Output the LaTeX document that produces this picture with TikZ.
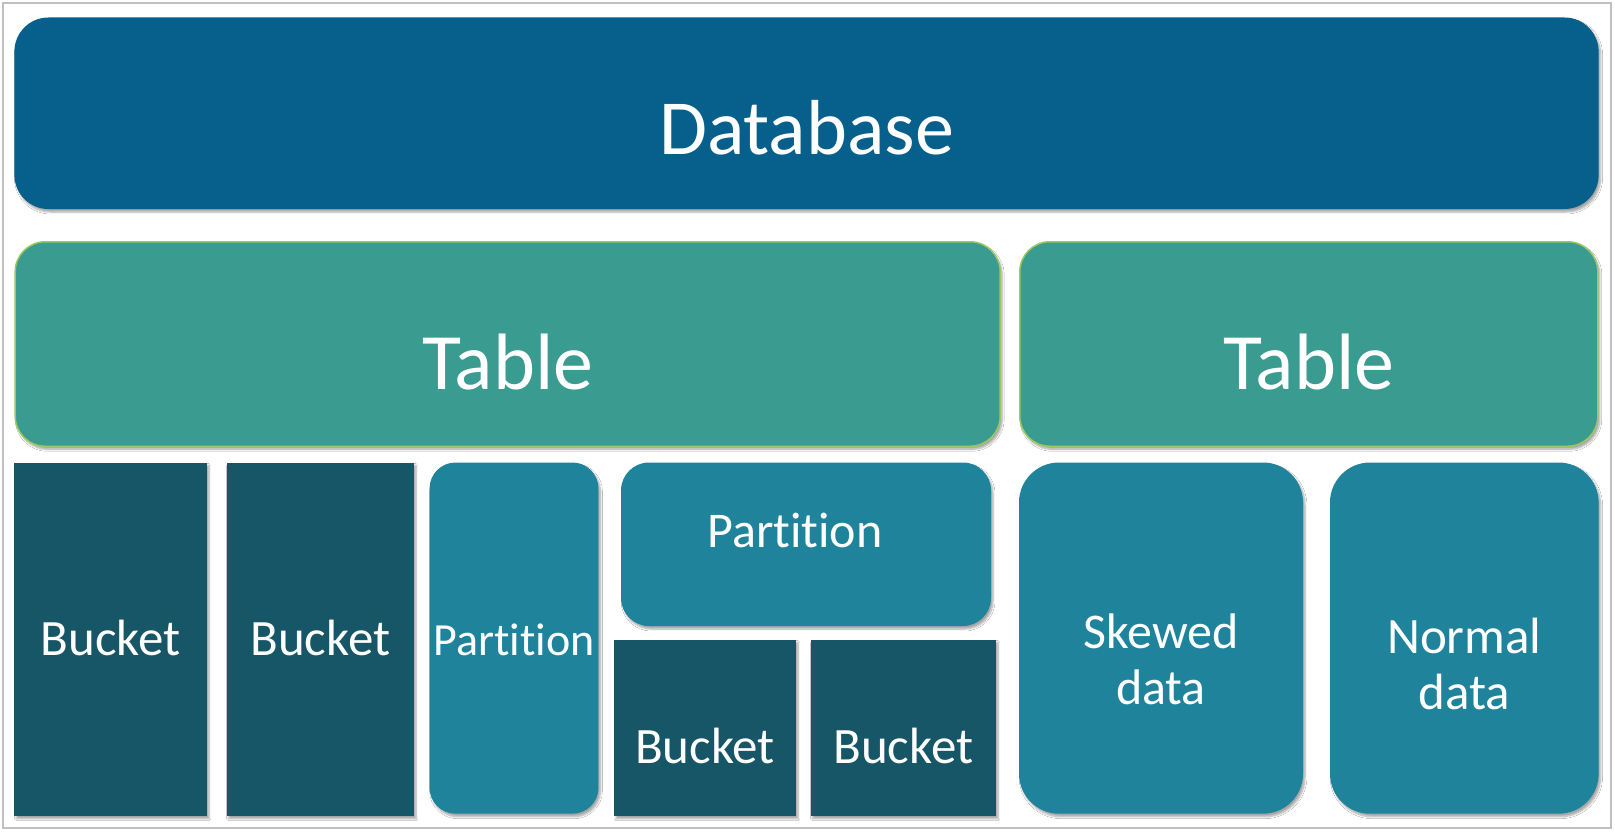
\documentclass[tikz,border=0pt]{standalone}
\usepackage{fontspec}
\setmainfont{Carlito}[Ligatures=NoCommon]
\usetikzlibrary{shadows.blur}
\definecolor{dbblue}{HTML}{075F8C}
\definecolor{tabgreen}{HTML}{3A9B91}
\definecolor{tabborder}{HTML}{9CC862}
\definecolor{partblue}{HTML}{1F839C}
\definecolor{bucketdark}{HTML}{165666}
\definecolor{framegray}{HTML}{C0C0C0}
\tikzset{
  shadowed/.style={blur shadow={shadow xshift=2pt, shadow yshift=-3pt, shadow blur steps=6, shadow opacity=35}},
  boxbase/.style={inner sep=0pt, outer sep=0pt, rectangle, shadowed},
  dbbox/.style={boxbase, fill=dbblue, rounded corners=34pt},
  tablebox/.style={boxbase, fill=tabgreen, draw=tabborder, line width=1.5pt, rounded corners=30pt},
  partbox/.style={boxbase, fill=partblue, rounded corners=26pt},
  databox/.style={boxbase, fill=partblue, rounded corners=40pt},
  bucketbox/.style={boxbase, fill=bucketdark},
  lbl/.style={text=white, inner sep=0pt, anchor=base, align=center},
}
\begin{document}
\begin{tikzpicture}[x=1pt,y=-1pt]
\useasboundingbox (0,0) rectangle (1615,832);
\fill[white] (0,0) rectangle (1615,832);
\draw[framegray, line width=2.5pt] (3,3) rectangle (1611,828);

% boxes
\node[dbbox, minimum width=1584.2pt, minimum height=191.5pt] (db) at (806.5,113.25) {};
\node[tablebox, minimum width=985pt, minimum height=204.5pt] (t1) at (507.7,344) {};
\node[tablebox, minimum width=578pt, minimum height=204.5pt] (t2) at (1308.8,344) {};
\node[bucketbox, minimum width=192.6pt, minimum height=353.3pt] (b1) at (110.7,639.15) {};
\node[bucketbox, minimum width=187.4pt, minimum height=353.3pt] (b2) at (320.3,639.15) {};
\node[partbox, minimum width=168.9pt, minimum height=351.2pt] (pv) at (514,638.1) {};
\node[partbox, rounded corners=28pt, minimum width=370pt, minimum height=163.5pt] (ph) at (806,544.25) {};
\node[bucketbox, minimum width=182pt, minimum height=176.2pt] (b3) at (705,727.7) {};
\node[bucketbox, minimum width=185.4pt, minimum height=176.2pt] (b4) at (903.3,727.7) {};
\node[databox, minimum width=284pt, minimum height=351.2pt] (sk) at (1161,638.1) {};
\node[databox, minimum width=268.6pt, minimum height=351.2pt] (nm) at (1464.3,638.1) {};

% labels
\node[lbl, font=\fontsize{78}{80}\selectfont] (dbl) at (806.5,155) {Database};
\node[lbl, font=\fontsize{80}{82}\selectfont] (t1l) at (507.7,389) {Table};
\node[lbl, font=\fontsize{80}{82}\selectfont] (t2l) at (1308.8,389) {Table};
\node[lbl, font=\fontsize{51}{55}\selectfont] (b1l) at (110.7,655) {Bucket};
\node[lbl, font=\fontsize{51}{55}\selectfont] (b2l) at (320.3,655) {Bucket};
\node[lbl, font=\fontsize{46}{50}\selectfont] (pvl) at (514,655) {Partition};
\node[lbl, font=\fontsize{50}{54}\selectfont] (phl) at (795,547.5) {Partition};
\node[lbl, font=\fontsize{51}{55}\selectfont] (b3l) at (705,763) {Bucket};
\node[lbl, font=\fontsize{51}{55}\selectfont] (b4l) at (903.3,763) {Bucket};
\node[lbl, font=\fontsize{50}{56}\selectfont] (skl) at (1161,704) {Skewed\\data};
\node[lbl, font=\fontsize{51}{56}\selectfont] (nml) at (1464.3,709) {Normal\\data};
\end{tikzpicture}
\end{document}
